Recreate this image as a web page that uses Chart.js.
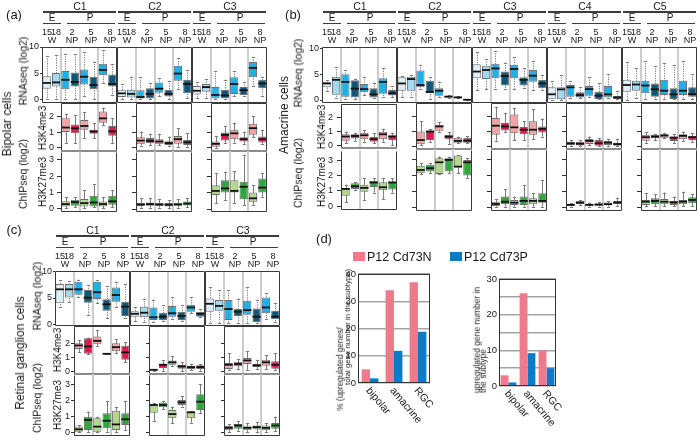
<!DOCTYPE html>
<html><head><meta charset="utf-8">
<script src="https://cdn.jsdelivr.net/npm/chart.js@4.4.1/dist/chart.umd.min.js"></script>
<style>
html,body{margin:0;padding:0;background:#fff;}
#root{position:relative;width:700px;height:440px;overflow:hidden;font-family:'Liberation Sans',Arial,Helvetica,sans-serif;color:#1a1a1a;}
#root canvas{position:absolute;}
.t{position:absolute;white-space:nowrap;line-height:1;will-change:transform;-webkit-font-smoothing:antialiased;}
.ln{position:absolute;background:#3c3c3c;}
</style></head><body><div id="root"></div>
<script>
// ---------------- DATA (box = [min, q1, median, q3, max]) ----------------
// RNA rows: per cluster 8 boxes: 15W, 18W, 2NP(a,b), 5NP(a,b), 8NP(a,b)
// ChIP rows: per cluster 6 boxes: 2NP(a,b), 5NP(a,b), 8NP(a,b)
const clusterNames = ['C1', 'C2', 'C3', 'C4', 'C5'];
const stageE = 'E', stageP = 'P';
const timeTop = ['15', '18', '2', '5', '8'];
const timeBottom = ['W', 'NP', 'NP', 'NP'];
const rnaTicks = [0, 5, 10];
const k4Ticks = [0, 1, 2];
const k27Ticks = [0, 1, 2, 3];

const aRNA = [
  [[0,2.0,3.1,4.4,8.3],[0,2.4,3.2,5.0,8.4],[0,1.9,3.7,5.4,8.7],[0,2.4,3.3,5.1,8.6],[0.5,2.8,4.3,5.7,9.0],[0,1.9,2.7,4.3,7.2],[3.0,4.6,5.6,6.8,9.4],[0.8,2.4,2.9,4.7,6.7]],
  [[0,0.4,1.1,1.8,2.9],[0,0.3,1.0,1.8,4.3],[0,0.1,0.4,1.7,4.2],[0,0.1,1.0,2.1,3.0],[0.5,1.2,2.0,3.2,4.0],[0,0.5,1.0,1.8,3.5],[1.9,3.5,4.9,6.4,7.8],[0.2,1.1,2.9,3.7,5.6]],
  [[0.2,0.9,1.6,2.5,3.3],[0.3,1.4,2.3,2.9,3.8],[0,0.1,0.8,2.3,5.4],[0,0.1,0.7,1.8,3.7],[0.5,1.0,2.9,4.2,5.4],[0.5,0.8,1.7,2.3,3.3],[2.5,4.2,6.0,7.1,8.1],[0.5,2.1,3.0,3.7,4.3]]
];
const aK4 = [
  [[0.3,1.0,1.3,1.9,2.2],[0.3,0.93,1.25,1.5,2.1],[0.6,1.15,1.4,1.8,2.3],[0.6,0.9,1.04,1.15,1.6],[1.47,1.62,1.9,2.35,2.6],[0.3,0.76,1.05,1.4,1.9]],
  [[0.14,0.22,0.46,0.68,1.04],[0.16,0.29,0.44,0.62,0.9],[0.16,0.22,0.4,0.55,0.9],[0.12,0.18,0.3,0.42,0.72],[0.07,0.25,0.55,0.76,1.25],[0.07,0.18,0.35,0.5,0.93]],
  [[0,0.07,0.25,0.4,0.76],[0.29,0.46,0.83,0.98,1.4],[0.33,0.55,0.93,1.15,1.62],[0.25,0.4,0.55,0.68,1.04],[0.68,0.83,1.26,1.54,2.05],[0.25,0.33,0.55,0.72,1.15]]
];
const aK27 = [
  [[0.04,0.14,0.28,0.45,0.7],[0.08,0.18,0.4,0.55,0.72],[0.04,0.14,0.34,0.6,1.15],[0.08,0.14,0.38,0.8,1.5],[0.04,0.14,0.28,0.44,0.7],[0.1,0.24,0.45,0.8,1.15]],
  [[0.08,0.18,0.28,0.38,0.65],[0.08,0.2,0.3,0.4,0.65],[0.08,0.18,0.28,0.38,0.6],[0.06,0.16,0.26,0.36,0.55],[0.08,0.2,0.28,0.38,0.6],[0.1,0.22,0.33,0.45,0.65]],
  [[0.34,0.85,1.1,1.45,2.2],[0.55,1.0,1.25,1.75,2.26],[0.34,1.0,1.1,1.75,2.3],[0.24,0.6,1.35,1.65,3.3],[0.24,0.44,0.65,1.0,1.45],[0.75,1.0,1.3,1.85,2.2]]
];

const bRNA = [
  [[1.8,2.45,3.2,3.45,3.8],[0.45,1.0,3.9,4.5,6.4],[0.2,0.65,3.5,5.0,5.8],[0.2,0.5,2.2,3.8,4.1],[1.0,1.5,2.1,3.1,4.5],[0.3,0.5,1.1,2.25,3.2],[0.5,1.2,3.5,4.2,6.1],[0.5,0.85,1.3,1.95,2.7]],
  [[0.65,1.8,3.2,4.4,4.6],[0.65,1.8,4.05,4.5,4.8],[2.06,2.45,2.9,5.7,6.8],[0.13,1.4,1.55,3.7,4.4],[0.65,0.84,1.8,2.25,3.55],[0.45,0.5,0.65,0.84,0.9],[0.35,0.4,0.5,0.65,0.7],[0,0.02,0.05,0.08,0.1]],
  [[1.94,4.2,5.5,6.9,9.2],[2.06,4.06,5.8,6.6,7.9],[2.06,4.2,6.1,7.0,9.5],[2.06,2.8,4.65,5.5,7.2],[2.06,4.2,6.0,6.8,8.3],[2.26,2.8,3.9,4.4,6.1],[1.94,3.55,4.7,5.8,7.6],[1.94,2.26,3.2,3.9,4.8]],
  [[0,0.13,1.1,2.45,3.7],[0,0.13,2.06,2.45,4.8],[0.3,0.65,2.45,2.9,3.7],[0.3,0.5,0.97,1.5,2.45],[0.5,0.84,2.1,2.7,4.4],[0.13,0.2,0.84,1.6,3.2],[0.3,0.5,1.1,2.7,5.0],[0.13,0.2,0.5,0.84,1.8]],
  [[0,1.6,2.9,3.9,7.3],[0.3,1.8,3.0,3.7,6.1],[0.2,1.3,2.8,3.7,7.6],[0.2,0.65,2.06,3.2,6.6],[0.2,0.97,1.8,3.9,7.1],[0.13,0.2,1.1,2.25,6.8],[0.2,0.97,1.8,3.7,7.5],[0.2,0.65,1.16,2.45,5.0]]
];
const bK4 = [
  [[0.18,0.34,0.64,0.8,0.98],[0.34,0.5,0.68,0.8,0.91],[0.27,0.45,0.73,0.91,1.09],[0.18,0.27,0.45,0.61,0.86],[0.27,0.45,0.8,0.98,1.2],[0,0.39,0.64,0.73,0.91]],
  [[0.11,0.16,0.45,1.02,1.7],[0.34,0.45,1.02,1.07,1.2],[1.02,1.07,1.36,1.48,1.66],[0.18,0.5,0.68,0.8,0.98],[0.23,0.27,0.39,0.61,0.68],[0.23,0.27,0.4,0.6,0.7]],
  [[0.41,0.8,1.41,1.93,2.68],[0.98,1.09,1.36,1.59,2.27],[0.45,0.91,1.3,2.16,2.61],[0.45,0.84,1.14,1.32,1.7],[0.5,0.8,1.14,1.7,2.5],[0.68,0.95,1.2,1.36,1.89]],
  [[0.07,0.11,0.23,0.34,0.45],[0.05,0.09,0.2,0.34,0.45],[0.11,0.18,0.39,0.52,0.68],[0.05,0.07,0.23,0.45,0.57],[0.07,0.11,0.27,0.39,0.5],[0.05,0.07,0.18,0.27,0.5]],
  [[0.27,0.41,0.64,0.8,0.98],[0.45,0.57,0.68,0.8,0.86],[0.57,0.61,0.75,0.84,0.91],[0.27,0.39,0.61,0.68,0.84],[0.41,0.5,0.73,0.84,1.02],[0.34,0.45,0.64,0.73,0.91]]
];
const bK27 = [
  [[0.25,0.67,1.12,1.19,1.4],[1.04,1.12,1.29,1.5,1.56],[0.4,0.94,1.19,1.4,1.81],[0.88,1.25,1.54,1.65,1.81],[0.46,1.04,1.23,1.56,1.81],[0.88,1.08,1.54,1.6,1.81]],
  [[2.08,2.13,2.33,2.6,2.75],[2.13,2.23,2.44,2.65,2.75],[2.05,2.08,2.81,3.06,3.17],[2.13,2.23,2.96,3.06,3.17],[2.13,2.5,2.54,3.23,3.27],[1.81,1.98,2.81,2.96,3.06]],
  [[0.04,0.08,0.21,0.35,0.52],[0.04,0.21,0.35,0.67,1.12],[0.04,0.15,0.29,0.46,0.67],[0.04,0.15,0.4,0.67,1.4],[0.04,0.19,0.4,0.56,0.88],[0.04,0.29,0.4,0.88,1.71]],
  [[0.05,0.1,0.15,0.2,0.25],[0.12,0.2,0.3,0.38,0.45],[0.05,0.1,0.15,0.22,0.3],[0.05,0.1,0.17,0.25,0.35],[0.05,0.12,0.2,0.3,0.4],[0.1,0.2,0.3,0.4,0.6]],
  [[0.08,0.15,0.35,0.46,0.88],[0.08,0.19,0.4,0.56,0.83],[0.08,0.19,0.35,0.52,0.92],[0.08,0.15,0.31,0.4,0.67],[0.08,0.19,0.35,0.46,0.98],[0.08,0.25,0.46,0.63,0.83]]
];

const cRNA = [
  [[3.35,4.0,6.65,7.66,8.4],[4.3,5.1,6.65,7.66,8.2],[5.2,5.6,6.65,8.1,8.5],[1.8,4.1,5.06,6.5,7.4],[4.0,4.8,6.1,8.1,8.4],[1.2,2.6,3.8,4.75,7.3],[3.35,4.3,5.57,7.0,8.1],[1.2,1.6,3.35,4.3,7.6]],
  [[0.6,1.46,2.0,2.5,3.2],[0.5,1.33,2.2,3.35,4.9],[0.5,0.8,1.33,3.2,4.7],[0.6,0.8,1.45,2.2,3.7],[0.95,1.46,2.1,3.5,5.1],[0.6,0.8,1.6,2.4,3.7],[2.1,2.4,3.2,3.7,5.1],[1.33,1.46,2.0,2.4,2.85]],
  [[0.2,2.4,3.9,4.9,7.0],[0.2,2.6,3.5,4.6,6.5],[0.2,0.8,2.9,4.6,6.5],[0.2,1.6,2.4,2.9,4.9],[0.2,1.8,2.7,4.5,7.0],[0.2,0.4,1.45,3.0,4.7],[1.1,2.1,3.2,5.1,5.9],[0.4,0.95,1.45,2.6,4.0]]
];
const cK4 = [
  [[1.36,1.6,1.84,2.0,2.23],[1.24,1.26,1.77,2.34,2.39],[1.82,1.93,2.16,2.46,2.92],[1.26,1.26,1.26,1.26,1.26],[1.31,1.43,1.72,2.0,2.28],[0.67,0.85,1.36,1.82,2.07]],
  [[0.1,0.12,0.15,0.18,0.2],[0.09,0.28,0.5,0.57,0.8],[0.44,0.5,0.67,0.8,1.08],[0.05,0.23,0.39,0.5,0.69],[0.11,0.21,0.34,0.44,0.57],[0.09,0.21,0.34,0.46,0.57]],
  [[0.16,0.21,0.5,0.62,1.31],[0.21,0.39,0.57,0.67,0.9],[0.16,0.55,0.8,0.97,1.43],[0.21,0.34,0.46,0.57,0.85],[0.21,0.44,0.67,0.85,1.15],[0.16,0.23,0.5,0.74,1.31]]
];
const cK27 = [
  [[0.02,0.06,0.21,0.38,0.48],[0.06,0.17,0.8,1.0,1.32],[0.02,0.06,0.38,0.9,0.96],[0.06,0.27,0.75,1.22,2.0],[0.06,0.17,0.52,1.38,1.6],[0.17,0.48,0.84,1.22,2.0]],
  [[0.75,1.26,1.74,1.78,1.85],[1.47,1.6,1.74,1.89,2.0],[0.59,0.9,1.17,1.43,1.64],[1.64,1.74,1.91,2.05,2.3],[0.63,0.9,1.28,1.32,1.36],[1.22,1.43,1.95,2.41,3.06]],
  [[0.05,0.15,0.3,0.42,0.55],[0.1,0.25,0.45,0.55,0.75],[0.05,0.15,0.3,0.4,0.6],[0.05,0.2,0.35,0.45,0.68],[0.05,0.15,0.3,0.45,0.6],[0.08,0.25,0.45,0.6,1.0]]
];

// Panel (d)
const dCategories = ['bipolar', 'amacrine', 'RGC'];
const dSeries = ['P12 Cd73N', 'P12 Cd73P'];
const dPercentN = [5, 34, 37];
const dPercentP = [1.7, 11.8, 18.8];
const dCountN = [3, 26, 10];
const dCountP = [1, 9.2, 5];

// ---------------- STYLE ----------------
const FONT = "'Liberation Sans', Arial, Helvetica, sans-serif";
Chart.defaults.font.family = FONT;
const RNA_COLORS = ['#dcf0f9', '#a3d9f1', '#1db1e7', '#0e5777', '#1db1e7', '#0e5777', '#1db1e7', '#0e5777'];
const K4_COLORS = ['#f4a2a5', '#e3164f', '#f4a2a5', '#e3164f', '#f4a2a5', '#e3164f'];
const K27_COLORS = ['#b2d889', '#2ea83a', '#b2d889', '#2ea83a', '#b2d889', '#2ea83a'];
const PINK = '#ee7b8c', BLUE = '#0b7bc8';
const root = document.getElementById('root');

function text(str, x, y, size, rot, align) {
  const d = document.createElement('div');
  d.className = 't';
  d.textContent = str;
  d.style.left = x + 'px';
  d.style.top = y + 'px';
  d.style.fontSize = size + 'px';
  d.style.transform = 'translate(' + (align === 'left' ? '0' : '-50%') + ',-50%) rotate(' + (rot || 0) + 'deg)';
  root.appendChild(d);
}
function hline(x1, x2, y, w) {
  const d = document.createElement('div');
  d.className = 'ln';
  w = w || 1.5;
  d.style.left = x1 + 'px'; d.style.top = (y - w / 2) + 'px';
  d.style.width = (x2 - x1) + 'px'; d.style.height = w + 'px';
  root.appendChild(d);
}
function swatch(x, y, c) {
  const d = document.createElement('div');
  d.style.cssText = 'position:absolute;left:' + x + 'px;top:' + y + 'px;width:12px;height:9px;background:' + c + ';';
  root.appendChild(d);
}

// ---------------- BOX CHART ----------------
function boxChart(o) {
  const PT = 8, PB = 8, PR = 2;
  const yw = o.yw;
  const W = yw + o.w + PR, H = PT + o.h + PB;
  const cv = document.createElement('canvas');
  cv.width = W; cv.height = H;
  cv.style.left = (o.x - yw) + 'px'; cv.style.top = (o.y - PT) + 'px';
  cv.style.width = W + 'px'; cv.style.height = H + 'px';
  root.appendChild(cv);
  const boxes = o.boxes;
  const plugin = {
    id: 'boxplotDraw',
    beforeDatasetsDraw(chart) {
      const ctx = chart.ctx, a = chart.chartArea, x = chart.scales.x, y = chart.scales.y;
      ctx.save();
      ctx.strokeStyle = '#cdcdcd'; ctx.lineWidth = 2;
      o.seps.forEach(i => {
        const px = Math.round((x.getPixelForValue(i - 1) + x.getPixelForValue(i)) / 2);
        ctx.beginPath(); ctx.moveTo(px, a.top); ctx.lineTo(px, a.bottom); ctx.stroke();
      });
      const meta = chart.getDatasetMeta(0);
      ctx.strokeStyle = '#7c7c7c'; ctx.lineWidth = 1;
      meta.data.forEach((el, i) => {
        const b = boxes[i];
        const cx = Math.round(el.x) + 0.5;
        const hw = Math.max(1.5, el.width * 0.2);
        const yTop = y.getPixelForValue(b[4]), yBot = y.getPixelForValue(b[0]);
        ctx.setLineDash(o.dotted ? [1.2, 1.2] : []);
        ctx.beginPath(); ctx.moveTo(cx, yTop); ctx.lineTo(cx, yBot); ctx.stroke();
        ctx.setLineDash([]);
        [yTop, yBot].forEach(yy => {
          const yr = Math.round(yy) + 0.5;
          ctx.beginPath(); ctx.moveTo(cx - hw, yr); ctx.lineTo(cx + hw, yr); ctx.stroke();
        });
      });
      ctx.restore();
    },
    afterDatasetsDraw(chart) {
      const ctx = chart.ctx, a = chart.chartArea, y = chart.scales.y;
      const meta = chart.getDatasetMeta(0);
      ctx.save();
      ctx.fillStyle = '#111';
      meta.data.forEach((el, i) => {
        const ym = y.getPixelForValue(boxes[i][2]);
        ctx.fillRect(el.x - el.width / 2, ym - 0.9, el.width, 1.8);
      });
      const L = Math.round(a.left) + 0.5, R = Math.round(a.right) - 0.5;
      const T = Math.round(a.top) + 0.5, B = Math.round(a.bottom) - 0.5;
      ctx.strokeStyle = '#3a3a3a'; ctx.lineWidth = 1;
      ctx.beginPath();
      ctx.moveTo(L, o.noTop ? T + 1 : T); ctx.lineTo(L, B);
      ctx.moveTo(R, o.noTop ? T + 1 : T); ctx.lineTo(R, B);
      if (!o.noTop) { ctx.moveTo(L, T); ctx.lineTo(R, T); }
      if (!o.greyBottom) { ctx.moveTo(L, B); ctx.lineTo(R, B); }
      ctx.stroke();
      if (o.greyBottom) {
        ctx.strokeStyle = '#8c8c8c'; ctx.lineWidth = 2;
        ctx.beginPath(); ctx.moveTo(a.left, Math.round(a.bottom)); ctx.lineTo(a.right, Math.round(a.bottom)); ctx.stroke();
      }
      ctx.restore();
    }
  };
  new Chart(cv, {
    type: 'bar',
    data: {
      labels: boxes.map((_, i) => String(i)),
      datasets: [{
        data: boxes.map(b => [b[1], b[3]]),
        backgroundColor: o.colors,
        borderColor: '#6e6e6e',
        borderWidth: 1,
        borderSkipped: false,
        barPercentage: 0.88,
        categoryPercentage: 1
      }]
    },
    options: {
      responsive: false, animation: false, devicePixelRatio: 1,
      layout: { padding: { left: 0, right: PR, top: PT, bottom: PB } },
      plugins: { legend: { display: false }, tooltip: { enabled: false } },
      scales: {
        x: { display: false },
        y: {
          min: o.min, max: o.max,
          afterFit: s => { s.width = yw; },
          afterBuildTicks: s => { s.ticks = o.ticks.map(v => ({ value: v })); },
          ticks: { display: !!o.labels, font: { size: 9, family: FONT }, color: '#222', padding: o.pad },
          grid: { display: o.tickLen > 0, drawOnChartArea: false, drawTicks: true, tickLength: o.tickLen, color: '#333', tickColor: '#333' },
          border: { display: false }
        }
      }
    },
    plugins: [plugin]
  });
}

function header(Ls, CW, T) {
  Ls.forEach((L, i) => {
    text(clusterNames[i], L + CW / 2, T - 41, 10.5);
    hline(L + 1, L + CW - 1, T - 35);
    text(stageE, L + 9.5, T - 29.3, 10);
    hline(L + 1, L + 18.5, T - 23.5);
    text(stageP, L + 48, T - 29.3, 10);
    hline(L + 25, L + CW - 2, T - 23.5);
    text(timeTop[0], L + 4.8, T - 15.5, 9);
    text(timeTop[1], L + 14.2, T - 15.5, 9);
    text(timeBottom[0], L + 9.5, T - 7.5, 9);
    [29.5, 49, 68].forEach((dx, k) => {
      text(timeTop[2 + k], L + dx, T - 15.5, 9);
      text(timeBottom[1 + k], L + dx, T - 7.5, 9);
    });
  });
}

function boxPanel(P) {
  header(P.Ls, P.CW, P.rna.top);
  P.Ls.forEach((L, ci) => {
    const first = ci === 0;
    boxChart({ x: L, y: P.rna.top, w: P.CW, h: P.rna.bottom - P.rna.top, min: P.rna.min, max: P.rna.max,
      ticks: rnaTicks, labels: first, yw: first ? 26 : 0, tickLen: first ? 2 : 0, pad: 1,
      boxes: P.rna.data[ci], colors: RNA_COLORS, seps: [2, 4, 6], dotted: true });
    const px = L + 19, pw = P.CW - 19;
    boxChart({ x: px, y: P.k4.top, w: pw, h: P.k4.bottom - P.k4.top, min: P.k4.min, max: P.k4.max,
      ticks: k4Ticks, labels: first, yw: first ? 26 : P.tick + 1, tickLen: P.tick, pad: P.pad,
      boxes: P.k4.data[ci], colors: K4_COLORS, seps: [2, 4], dotted: false, greyBottom: true });
    boxChart({ x: px, y: P.k27.top, w: pw, h: P.k27.bottom - P.k27.top, min: P.k27.min, max: P.k27.max,
      ticks: k27Ticks, labels: first, yw: first ? 26 : P.tick + 1, tickLen: P.tick, pad: P.pad,
      boxes: P.k27.data[ci], colors: K27_COLORS, seps: [2, 4], dotted: false, noTop: true });
  });
}

// ---------------- PANELS (a)(b)(c) ----------------
boxPanel({ Ls: [42, 117, 192], CW: 75, tick: 4, pad: 3,
  rna: { top: 47, bottom: 103, min: -0.75, max: 10, data: aRNA },
  k4: { top: 103, bottom: 151, min: -0.21, max: 2.88, data: aK4 },
  k27: { top: 151, bottom: 212, min: -0.18, max: 3.52, data: aK27 } });
boxPanel({ Ls: [322, 397, 472, 547, 622], CW: 75, tick: 4, pad: 4,
  rna: { top: 47, bottom: 103, min: -0.58, max: 10.25, data: bRNA },
  k4: { top: 103, bottom: 149, min: -0.15, max: 2.93, data: bK4 },
  k27: { top: 149, bottom: 211, min: -0.23, max: 3.64, data: bK27 } });
boxPanel({ Ls: [55, 130, 205], CW: 75, tick: 3, pad: 1,
  rna: { top: 271, bottom: 326, min: -0.32, max: 10.13, data: cRNA },
  k4: { top: 326, bottom: 374, min: -0.14, max: 3.19, data: cK4 },
  k27: { top: 374, bottom: 436, min: -0.21, max: 3.69, data: cK27 } });

// titles
text('(a)', 14, 14, 13);
text('(b)', 292.5, 14, 13);
text('(c)', 14, 229, 13);
text('(d)', 324, 237.5, 13);

text('Bipolar cells', 7, 124, 12, -90);
text('RNAseq (log2)', 22.5, 71, 10.5, -90);
text('ChIPseq (log2)', 22.5, 174, 10.5, -90);
text('H3K4me3', 42.5, 128, 10, -90);
text('H3K27me3', 42.5, 182, 10, -90);

text('Amacrine cells', 284, 115, 12, -90);
text('RNAseq (log2)', 297.5, 73, 10.5, -90);
text('ChIPseq (log2)', 297.5, 173, 10.5, -90);
text('H3K4me3', 322, 127, 10, -90);
text('H3K27me3', 322, 182, 10, -90);

text('Retinal ganglion cells', 20, 353, 12, -90);
text('RNAseq (log2)', 37, 296, 10.5, -90);
text('ChIPseq (log2)', 37, 398, 10.5, -90);
text('H3K4me3', 57.5, 350, 10, -90);
text('H3K27me3', 57.5, 405, 10, -90);

// ---------------- PANEL (d) ----------------
function barChart(o) {
  const PT = 8, PB = 45, PR = 6;
  const W = o.yw + o.w + PR, H = PT + o.h + PB;
  const cv = document.createElement('canvas');
  cv.width = W; cv.height = H;
  cv.style.left = (o.x - o.yw) + 'px'; cv.style.top = (o.y - PT) + 'px';
  cv.style.width = W + 'px'; cv.style.height = H + 'px';
  root.appendChild(cv);
  const plugin = {
    id: 'frameLabels',
    afterDatasetsDraw(chart) {
      const ctx = chart.ctx, a = chart.chartArea, x = chart.scales.x;
      ctx.save();
      ctx.strokeStyle = '#333'; ctx.lineWidth = 1;
      ctx.strokeRect(Math.round(a.left) + 0.5, Math.round(a.top) + 0.5, Math.round(a.right - a.left) - 1, Math.round(a.bottom - a.top) - 1);
      ctx.fillStyle = '#1a1a1a';
      ctx.font = '10.5px ' + FONT;
      ctx.textAlign = 'left'; ctx.textBaseline = 'middle';
      dCategories.forEach((lab, i) => {
        const px = x.getPixelForValue(i);
        ctx.save();
        ctx.translate(px - 2, a.bottom + 6);
        ctx.rotate(50 * Math.PI / 180);
        ctx.fillText(lab, 0, 0);
        ctx.restore();
      });
      ctx.restore();
    }
  };
  new Chart(cv, {
    type: 'bar',
    data: {
      labels: dCategories,
      datasets: [
        { label: dSeries[0], data: o.n, backgroundColor: PINK, borderWidth: 0, categoryPercentage: o.cp, barPercentage: 1 },
        { label: dSeries[1], data: o.p, backgroundColor: BLUE, borderWidth: 0, categoryPercentage: o.cp, barPercentage: 1 }
      ]
    },
    options: {
      responsive: false, animation: false, devicePixelRatio: 1,
      layout: { padding: { left: 0, right: PR, top: PT, bottom: PB } },
      plugins: { legend: { display: false }, tooltip: { enabled: false } },
      scales: {
        x: { display: false },
        y: {
          min: 0, max: o.max,
          afterFit: s => { s.width = o.yw; },
          afterBuildTicks: s => { const t = []; for (let v = 0; v <= o.max; v += 5) t.push({ value: v }); s.ticks = t; },
          ticks: { callback: v => (v % 10 === 0 ? String(v) : ''), font: { size: 9.5, family: FONT }, color: '#222', padding: 2 },
          grid: { color: '#a5a5a5', lineWidth: 1.5, drawTicks: false },
          border: { display: false }
        }
      }
    },
    plugins: [plugin]
  });
}
barChart({ x: 358, y: 274, w: 72, h: 109, max: 40, n: dPercentN, p: dPercentP, cp: 0.7, yw: 22 });
barChart({ x: 499, y: 279, w: 57, h: 107, max: 30, n: dCountN, p: dCountP, cp: 0.83, yw: 20 });

swatch(353, 252, PINK); text(dSeries[0], 367, 256.5, 12.5, 0, 'left');
swatch(450, 252, BLUE); text(dSeries[1], 464, 256.5, 12.5, 0, 'left');

text('% (upregulated genes/', 340, 369, 8.3, -90);
text('total gene number in the subtype)', 348, 327, 7.8, -90);
text('upregulated gene number in', 476.5, 340, 8.5, -90);
text('the subtype', 483, 371, 8.5, -90);
</script></body></html>
